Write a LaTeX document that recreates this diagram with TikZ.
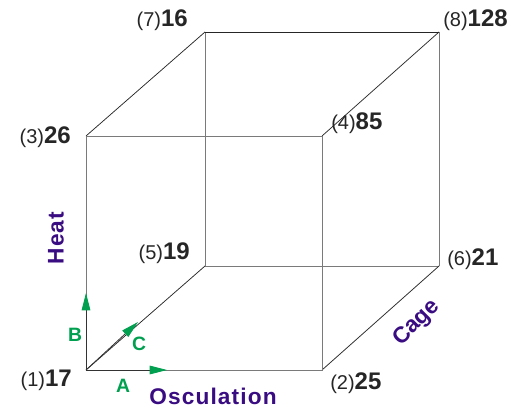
\documentclass[tikz,border=0pt]{standalone}
\usepackage{fontspec}
\setmainfont{Liberation Sans}
\usetikzlibrary{arrows.meta}
\definecolor{axpurple}{HTML}{3A0C82}
\definecolor{axgreen}{HTML}{00A050}
\definecolor{edgegray}{HTML}{7A7A7A}
\tikzset{
  corner/.style={inner sep=0pt, minimum size=0pt},
  front/.style={draw=edgegray, line width=0.75pt},
  diag/.style={draw=black!85, line width=0.55pt},
  vallabel/.style={inner sep=0pt, font=\fontsize{18}{20}\selectfont, text=black!85},
  axislabel/.style={inner sep=0pt, text=axpurple, font=\fontsize{17}{19}\selectfont\bfseries\addfontfeatures{LetterSpace=5}},
  cagelabel/.style={inner sep=0pt, text=axpurple, font=\fontsize{17}{19}\selectfont\bfseries},
  dirlabel/.style={inner sep=0pt, text=axgreen, font=\fontsize{14.5}{16}\selectfont\bfseries},
  greentip/.style={-{Triangle[length=13pt,width=6.5pt,color=axgreen]}}
}
\newcommand{\vl}[2]{{\fontsize{15}{17}\selectfont(#1)}\textbf{#2}}
\begin{document}
\begin{tikzpicture}[x=0.75pt,y=-0.75pt]
\useasboundingbox[fill=white] (0,0) rectangle (513,407);
% corners
\coordinate (c1) at (86,370);
\coordinate (c2) at (322,370);
\coordinate (c3) at (86,136);
\coordinate (c4) at (322,136);
\coordinate (c5) at (205,266);
\coordinate (c6) at (439,266);
\coordinate (c7) at (205,32);
\coordinate (c8) at (439,32);
% back face
\draw[front] (c5) -- (c6);
\draw[front] (c5) -- (c7);
\draw[front] (c6) -- (c8);
\draw[diag] (c7) -- (c8);
% diagonals
\draw[diag] (c1) -- (c5);
\draw[diag] (c2) -- (c6);
\draw[diag] (c3) -- (c7);
\draw[diag] (c4) -- (c8);
% front face
\draw[front] (c1) -- (c2) -- (c4) -- (c3) -- cycle;
% direction arrows
\coordinate (ta) at (167,370);
\coordinate (tb) at (86,293);
\coordinate (tc) at (138,322);
\draw[greentip, draw=black!80, line width=0.6pt] (c1) -- (ta);
\draw[greentip, draw=black!80, line width=0.6pt] (c1) -- (tb);
\draw[greentip, draw=black!80, line width=0.6pt] (c1) -- (tc);
\node[dirlabel] (la) at (123,386) {A};
\node[dirlabel] (lb) at (75,335) {B};
\node[dirlabel] (lc) at (139,344) {C};
% value labels
\node[vallabel, anchor=east] (v1) at (72,380) {\vl{1}{17}};
\node[vallabel, anchor=west] (v2) at (330,383) {\vl{2}{25}};
\node[vallabel, anchor=east] (v3) at (71,137) {\vl{3}{26}};
\node[vallabel, anchor=west] (v4) at (331,123) {\vl{4}{85}};
\node[vallabel, anchor=east] (v5) at (190,253) {\vl{5}{19}};
\node[vallabel, anchor=west] (v6) at (447,259) {\vl{6}{21}};
\node[vallabel, anchor=east] (v7) at (188,20) {\vl{7}{16}};
\node[vallabel, anchor=west] (v8) at (443,20) {\vl{8}{128}};
% axis labels
\node[axislabel] (osc) at (213,396) {Osculation};
\node[axislabel, rotate=90] (heat) at (56,238) {Heat};
\node[cagelabel, rotate=45] (cage) at (417,323) {Cage};
\end{tikzpicture}
\end{document}
